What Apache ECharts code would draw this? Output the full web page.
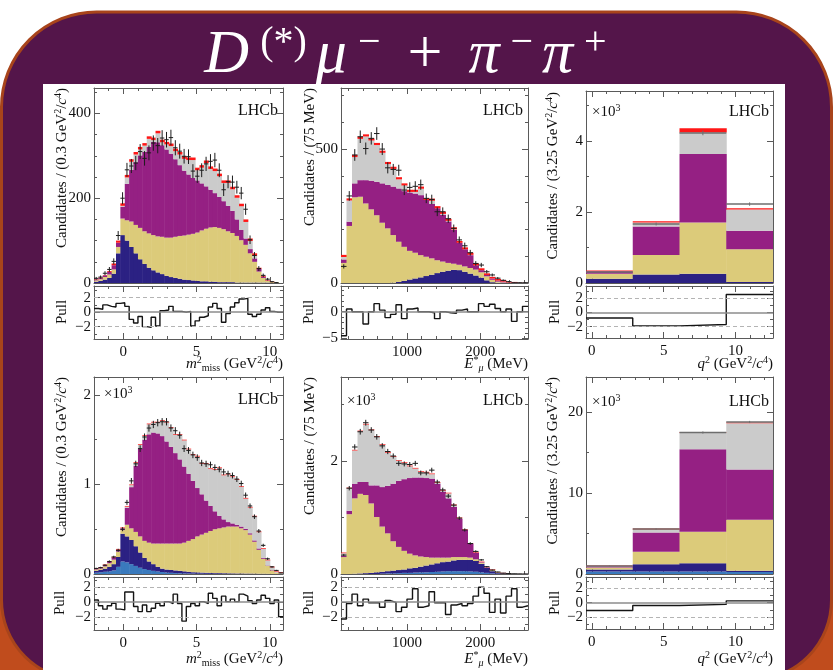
<!DOCTYPE html>
<html>
<head>
<meta charset="utf-8">
<title>D(*) mu + pi- pi+ fit projections</title>
<script src="https://cdn.jsdelivr.net/npm/echarts@6.0.0/dist/echarts.min.js"></script>
<style>
html,body{margin:0;padding:0;background:#fff;}
#chart{width:833px;height:670px;}
</style>
</head>
<body>
<div id="chart"></div>
<script>
// ---------- binning ----------
const M2_BINS = { lo: -2.0, width: 0.3, n: 43 };   // m2_miss in GeV^2/c^4
const E_BINS  = { lo: 100,  width: 75,  n: 34 };   // E*_mu in MeV
const Q2_EDGES = [-0.4, 2.85, 6.1, 9.35, 12.6];    // q2 in GeV^2/c^4

// ---------- first sample: candidates per bin ----------
// stack levels are the cumulative heights reached by each template
const aNavyTop   = [3,5,8,12,22,70,113,100,85,70,56,45,36,30,25,21,17,14,12,10,8,7,6,5,4,4,3,3,2,2,2,2,1,1,1,1,1,1,1,1,0,0,0];
const aYellowTop = [6,9,14,20,32,85,152,148,145,137,130,122,117,113,110,109,107,107,109,111,112,114,116,119,124,128,131,132,130,127,122,118,111,101,90,70,50,27,12,5,2,1,0];
const aMagTop    = [8,12,18,26,42,95,180,234,267,285,301,309,321,333,332,325,315,305,292,278,265,256,248,242,235,228,220,212,203,193,182,170,150,125,105,80,58,33,15,6,2,1,0];
const aFit       = [9,13,19,28,46,100,188,255,292,309,321,330,346,343,359,338,333,329,317,309,299,296,296,272,278,289,275,270,258,242,242,227,207,187,150,105,70,36,17,7,3,1,0];
const aData      = [11,14,23,32,51,112,200,267,276,283,310,294,307,330,324,342,338,343,319,311,299,298,264,252,266,281,287,290,266,220,239,238,226,212,174,102,65,34,18,9,3,1,0];
const aPull      = [0.5,0.4,1.0,0.8,0.7,1.2,1.3,0.8,-1.0,-1.5,-0.6,-2.0,-2.1,-0.7,-1.9,0.2,0.3,0.8,0.1,0.1,0.0,0.1,-1.9,-1.2,-0.7,-0.5,0.7,1.2,0.5,-1.4,-0.2,0.7,1.3,1.8,1.9,-0.3,-0.6,-0.3,0.3,0.6,0.1,0.0,0.0];

const bNavyTop   = [0,0,0,0,0,0,0,0,0,1,4,8,13,17,21,26,31,37,42,46,49,48,42,35,28,20,10,3,1,0,0,0,0,0];
const bYellowTop = [75,213,320,322,297,275,253,225,204,179,154,135,120,113,104,98,92,85,80,75,72,68,62,56,50,40,25,12,5,2,1,0,0,0];
const bMagTop    = [88,229,372,384,384,382,378,372,366,360,353,343,338,334,328,310,295,279,255,230,198,150,126,104,66,48,30,17,9,5,2,1.5,0.5,0.2];
const bFit       = [105,316,478,546,555,540,523,494,452,434,395,372,348,348,360,316,315,287,266,240,208,157,133,113,73,55,36,23,15,10,4,4,1,0.5];
const bData      = [62,325,478,546,502,540,558,500,430,424,421,347,357,361,367,316,312,266,266,240,204,161,139,113,73,67,42,30,18,10,5,1,1,1];
const bPull      = [-4.5,0.5,0,0,-2.3,0,1.5,0.3,-1.1,-0.5,1.3,-1.3,0.5,0.7,0,0,-0.2,-1.3,0,-0.2,-0.3,0.3,0.5,0,0,1.5,1.0,1.4,0.6,0,0.5,-1.8,0,1.0];

// q2 projection, in units of 10^3 candidates
const cNavyTop   = [0.12,0.24,0.26,0.03];
const cYellowTop = [0.26,0.79,1.70,0.95];
const cMagTop    = [0.33,1.59,3.63,1.47];
const cGrayTop   = [0.33,1.70,4.23,2.07];
const cFit       = [0.35,1.74,4.35,2.10];
const cData      = [0.31,1.66,4.22,2.22];
const cPull      = [-0.8,-1.9,-1.7,2.5];

// ---------- second sample, in units of 10^3 candidates ----------
const dBlueTop   = [0.015,0.02,0.025,0.03,0.04,0.08,0.14,0.13,0.11,0.09,0.07,0.055,0.045,0.035,0.028,0.022,0.017,0.013,0.01,0.008,0.006,0.005,0.004,0.003,0.003,0.002,0.002,0.001,0.001,0.001,0.001,0,0,0,0,0,0,0,0,0,0,0,0];
const dNavyTop   = [0.035,0.045,0.06,0.08,0.11,0.19,0.45,0.42,0.38,0.31,0.24,0.18,0.14,0.11,0.08,0.06,0.05,0.045,0.04,0.035,0.03,0.025,0.02,0.018,0.016,0.014,0.012,0.01,0.01,0.009,0.008,0.007,0.006,0.006,0.005,0.005,0.004,0.003,0.003,0.002,0.001,0.001,0];
const dYellowTop = [0.05,0.06,0.085,0.12,0.16,0.25,0.49,0.55,0.51,0.47,0.42,0.37,0.35,0.34,0.34,0.34,0.34,0.34,0.34,0.34,0.35,0.37,0.39,0.42,0.44,0.46,0.48,0.50,0.51,0.52,0.53,0.53,0.53,0.51,0.49,0.44,0.36,0.27,0.17,0.09,0.04,0.015,0.005];
const dMagTop    = [0.055,0.07,0.098,0.135,0.185,0.27,0.51,0.74,0.97,1.21,1.40,1.50,1.56,1.58,1.57,1.54,1.48,1.42,1.35,1.28,1.20,1.12,1.04,0.96,0.89,0.82,0.76,0.70,0.65,0.61,0.58,0.565,0.55,0.53,0.505,0.455,0.375,0.285,0.18,0.095,0.045,0.017,0.006];
const dFit       = [0.06,0.076,0.106,0.144,0.192,0.28,0.52,0.76,1.00,1.25,1.45,1.55,1.68,1.70,1.70,1.72,1.70,1.64,1.56,1.56,1.50,1.40,1.34,1.32,1.24,1.24,1.18,1.17,1.19,1.11,1.12,1.09,1.06,0.98,0.85,0.75,0.65,0.475,0.29,0.16,0.082,0.035,0.02];
const dData      = [0.062,0.072,0.098,0.14,0.19,0.265,0.50,0.80,1.04,1.23,1.40,1.53,1.63,1.67,1.69,1.70,1.70,1.63,1.60,1.55,1.40,1.38,1.33,1.30,1.24,1.23,1.22,1.19,1.17,1.14,1.12,1.10,1.06,1.01,0.88,0.76,0.64,0.48,0.32,0.17,0.08,0.04,0.012];
const dPull      = [0.27,-0.5,-0.97,-0.5,-0.18,-0.97,-1.07,1.37,1.37,-0.6,-1.3,-0.4,-1.3,-0.85,-0.18,-0.5,0.05,-0.2,1.07,-0.2,-2.6,-0.6,-0.2,-0.5,0.05,-0.2,1.2,0.5,-0.5,0.8,0.05,0.4,0.05,1.07,0.8,0.18,-0.2,0.27,0.93,0.5,-0.2,0.27,-2.0];

const eBlueTop   = [0,0,0,0,0,0,0,0.005,0.01,0.01,0.015,0.02,0.02,0.025,0.03,0.03,0.035,0.04,0.045,0.05,0.05,0.05,0.05,0.045,0.04,0.03,0.02,0.01,0.005,0,0,0,0,0];
const eNavyTop   = [0,0,0.005,0.01,0.015,0.02,0.03,0.04,0.05,0.06,0.07,0.08,0.1,0.11,0.13,0.15,0.17,0.19,0.21,0.22,0.24,0.25,0.25,0.25,0.23,0.18,0.11,0.05,0.02,0.008,0.003,0.001,0,0];
const eYellowTop = [0.30,1.06,1.34,1.42,1.40,1.25,1.01,0.84,0.72,0.58,0.48,0.41,0.36,0.33,0.31,0.30,0.29,0.29,0.29,0.29,0.30,0.30,0.30,0.29,0.26,0.20,0.11,0.07,0.03,0.012,0.005,0.002,0.001,0];
const eMagTop    = [0.32,1.12,1.60,1.63,1.63,1.57,1.57,1.54,1.56,1.60,1.65,1.68,1.70,1.71,1.71,1.70,1.69,1.60,1.46,1.34,1.19,0.98,0.78,0.54,0.375,0.21,0.115,0.07,0.03,0.015,0.005,0.002,0.002,0.001];
const eFit       = [0.38,1.53,2.20,2.54,2.66,2.56,2.44,2.30,2.16,2.09,2.02,1.98,1.92,1.88,1.82,1.81,1.78,1.63,1.49,1.44,1.23,1.00,0.79,0.545,0.385,0.22,0.12,0.08,0.033,0.02,0.006,0.002,0.002,0.001];
const eData      = [0.335,1.52,2.25,2.52,2.68,2.55,2.43,2.27,2.17,2.09,1.96,1.95,1.94,1.96,1.79,1.79,1.84,1.63,1.49,1.38,1.22,0.99,0.78,0.54,0.40,0.25,0.13,0.07,0.035,0.015,0.008,0.004,0.002,0.001];
const ePull      = [-2.3,-0.2,1.07,-0.5,0.4,-0.1,-0.1,-0.7,0.2,-0.04,-1.3,-0.7,0.4,1.8,-0.7,-0.5,1.4,-0.1,-0.1,-1.7,-0.4,-0.2,-0.5,-0.2,0.8,2.0,1.2,-1.4,0.4,-1.5,0.8,1.8,-0.7,-0.5];

const fBlueTop   = [0.3,0.3,0.3,0.25];
const fNavyTop   = [0.55,1.2,1.32,0.41];
const fYellowTop = [0.8,2.75,5.2,6.7];
const fMagTop    = [0.95,5.13,15.4,12.9];
const fGrayTop   = [1.0,5.5,17.4,18.6];
const fFit       = [1.05,5.6,17.5,18.7];
const fData      = [1.0,5.55,17.45,18.75];
const fPull      = [-1.1,-0.4,-0.25,0.25];

// ---------- tick sets ----------
const X_M2 = { major:[0,5,10], minor:[-2,-1,1,2,3,4,6,7,8,9], labels:[0,5,10] };
const X_E  = { major:[1000,2000], minor:[200,400,600,800,1200,1400,1600,1800,2200,2400,2600], labels:[1000,2000] };
const X_Q2 = { major:[0,5,10], minor:[1,2,3,4,6,7,8,9,11,12], labels:[0,5,10] };
const Y_A  = { major:[0,200,400], minor:[50,100,150,250,300,350,450], labels:[0,200,400] };
const Y_B  = { major:[0,500], minor:[100,200,300,400,600,700], labels:[0,500] };
const Y_C  = { major:[0,2,4], minor:[1,3,5], labels:[0,2,4] };
const Y_D  = { major:[0,1,2], minor:[0.5,1.5], labels:[0,1,2] };
const Y_E  = { major:[0,2], minor:[1,3], labels:[0,2] };
const Y_F  = { major:[0,10,20], minor:[5,15], labels:[0,10,20] };
const PULL2 = { major:[-2,0,2], minor:[-3,-1,1,3], labels:[-2,0,2] };
const PULL5 = { major:[-5,0], minor:[-4,-3,-2,-1,1,2,3,4], labels:[-5,0] };

// ---------- styling ----------
const SERIF = '"Liberation Serif","DejaVu Serif",serif';
const COL = { blue:'#3a7abd', navy:'#2b2183', yellow:'#dccb7a', mag:'#952083', gray:'#cbcbcb', red:'#ff1717' };
const FRAME = '#5a5a5a';

function edgesOf(b) {
  const e = [];
  for (let i = 0; i <= b.n; i++) e.push(Math.round((b.lo + i * b.width) * 1000) / 1000);
  return e;
}
function grayLevel(fit, below, band) {
  return fit.map((t, i) => Math.max(below[i], t - band));
}
const fmtNum = v => (v < 0 ? '\u2212' + String(-v) : String(v));

const panels = [
  { grid:[94,88,189,195], pull:[94,286,189,53], xr:[-2,10.9], yr:[0,460], pr:[-3.7,3.6],
    edges:edgesOf(M2_BINS), unit:1, xt:X_M2, yt:Y_A, pt:PULL2, dashed:true, dataLine:false,
    layers:[[aNavyTop,COL.navy],[aYellowTop,COL.yellow],[aMagTop,COL.mag],[grayLevel(aFit,aMagTop,6),COL.gray],[aFit,COL.red]],
    data:aData, pullv:aPull },
  { grid:[341,88,187,195], pull:[341,286,187,53], xr:[100,2650], yr:[0,728], pr:[-5.1,4.8],
    edges:edgesOf(E_BINS), unit:1, xt:X_E, yt:Y_B, pt:PULL5, dashed:false, dataLine:false,
    layers:[[bNavyTop,COL.navy],[bYellowTop,COL.yellow],[bMagTop,COL.mag],[grayLevel(bFit,bMagTop,8),COL.gray],[bFit,COL.red]],
    data:bData, pullv:bPull },
  { grid:[586,91,187,192], pull:[586,286,187,52], xr:[-0.4,12.6], yr:[0,5.4], pr:[-3.6,3.7],
    edges:Q2_EDGES, unit:1000, xt:X_Q2, yt:Y_C, pt:PULL2, dashed:true, dataLine:true,
    layers:[[cNavyTop,COL.navy],[cYellowTop,COL.yellow],[cMagTop,COL.mag],[cGrayTop,COL.gray],[cFit,COL.red]],
    data:cData, pullv:cPull },
  { grid:[94,377,189,197], pull:[94,577,189,53], xr:[-2,10.9], yr:[0,2.2], pr:[-3.8,3.4],
    edges:edgesOf(M2_BINS), unit:1000, xt:X_M2, yt:Y_D, pt:PULL2, dashed:true, dataLine:false,
    layers:[[dBlueTop,COL.blue],[dNavyTop,COL.navy],[dYellowTop,COL.yellow],[dMagTop,COL.mag],[grayLevel(dFit,dMagTop,0.008),COL.gray],[dFit,COL.red]],
    data:dData, pullv:dPull },
  { grid:[341,377,187,197], pull:[341,577,187,53], xr:[100,2650], yr:[0,3.49], pr:[-3.8,3.4],
    edges:edgesOf(E_BINS), unit:1000, xt:X_E, yt:Y_E, pt:PULL2, dashed:true, dataLine:false,
    layers:[[eBlueTop,COL.blue],[eNavyTop,COL.navy],[eYellowTop,COL.yellow],[eMagTop,COL.mag],[grayLevel(eFit,eMagTop,0.012),COL.gray],[eFit,COL.red]],
    data:eData, pullv:ePull },
  { grid:[586,377,187,197], pull:[586,577,187,52], xr:[-0.4,12.6], yr:[0,24.3], pr:[-3.7,3.6],
    edges:Q2_EDGES, unit:1000, xt:X_Q2, yt:Y_F, pt:PULL2, dashed:true, dataLine:true,
    layers:[[fBlueTop,COL.blue],[fNavyTop,COL.navy],[fYellowTop,COL.yellow],[fMagTop,COL.mag],[fGrayTop,COL.gray],[fFit,COL.red]],
    data:fData, pullv:fPull }
];

// ---------- axes ----------
const grid = [], xAxis = [], yAxis = [], series = [];

function mkAxis(gi, range, pos, ticks, len, labels, line, isX) {
  return {
    type:'value', gridIndex:gi, min:range[0], max:range[1], position:pos,
    axisLine:{ show:line, onZero:false, lineStyle:{ color:FRAME, width:1 } },
    axisTick:{ show:ticks.length > 0, inside:true, length:len, customValues:ticks, lineStyle:{ color:FRAME, width:1 } },
    axisLabel:{ show:!!(labels && labels.length), customValues:labels || [], formatter:fmtNum, margin:isX ? 6 : 3,
                hideOverlap:false, showMinLabel:true, showMaxLabel:true,
                fontFamily:SERIF, fontSize:15, color:'#111' },
    splitLine:{ show:false }
  };
}
// tick labels are split over the major and minor axes so that closely spaced
// labels on the short pull panels are never dropped as overlapping
function addAxes(gi, xr, yr, xt, yt, withXLabels) {
  const x = xAxis.length, y = yAxis.length;
  const yEven = yt.labels.filter((_, k) => k % 2 === 0);
  const yOdd = yt.labels.filter((_, k) => k % 2 === 1);
  xAxis.push(mkAxis(gi, xr, 'bottom', xt.major, 6, withXLabels ? xt.labels : null, true, true));
  xAxis.push(mkAxis(gi, xr, 'bottom', xt.minor, 3, null, false, true));
  xAxis.push(mkAxis(gi, xr, 'top', xt.major, 6, null, true, true));
  xAxis.push(mkAxis(gi, xr, 'top', xt.minor, 3, null, false, true));
  yAxis.push(mkAxis(gi, yr, 'left', yt.major, 6, yEven, true, false));
  yAxis.push(mkAxis(gi, yr, 'left', yt.minor, 3, yOdd, false, false));
  yAxis.push(mkAxis(gi, yr, 'right', yt.major, 6, null, true, false));
  yAxis.push(mkAxis(gi, yr, 'right', yt.minor, 3, null, false, false));
  return { x, y };
}

// ---------- renderers ----------
function stackRenderer(colors) {
  return function (params, api) {
    const x0 = api.value(0), x1 = api.value(1);
    const children = [];
    let prev = 0;
    for (let k = 0; k < colors.length; k++) {
      const top = api.value(2 + k);
      if (top > prev) {
        const a = api.coord([x0, prev]), b = api.coord([x1, top]);
        children.push({ type:'rect',
          shape:{ x:a[0], y:b[1], width:b[0] - a[0] + 0.5, height:a[1] - b[1] },
          style:{ fill:colors[k] } });
        prev = top;
      }
    }
    return { type:'group', children };
  };
}
function dataRenderer(color, wide) {
  return function (params, api) {
    const x0 = api.value(0), x1 = api.value(1), v = api.value(2), err = api.value(3);
    if (!(v > 0)) return { type:'group', children:[] };
    const xm = (x0 + x1) / 2;
    const a = api.coord([x0, v]), b = api.coord([x1, v]);
    const lo = api.coord([xm, Math.max(v - err, 0)]), hi = api.coord([xm, v + err]);
    return { type:'group', children:[
      { type:'line', shape:{ x1:a[0], y1:a[1], x2:b[0], y2:b[1] }, style:{ stroke:color, lineWidth:wide ? 1.5 : 1 } },
      { type:'line', shape:{ x1:lo[0], y1:lo[1], x2:hi[0], y2:hi[1] }, style:{ stroke:color, lineWidth:1 } }
    ]};
  };
}

panels.forEach(p => {
  const g = grid.length;
  grid.push({ left:p.grid[0], top:p.grid[1], width:p.grid[2], height:p.grid[3] });
  grid.push({ left:p.pull[0], top:p.pull[1], width:p.pull[2], height:p.pull[3] });
  const m = addAxes(g, p.xr, p.yr, p.xt, p.yt, false);
  const q = addAxes(g + 1, p.xr, p.pr, p.xt, p.pt, true);
  const e = p.edges, n = e.length - 1;

  const colors = p.layers.map(l => l[1]);
  const stackItems = [];
  for (let i = 0; i < n; i++) stackItems.push([e[i], e[i + 1]].concat(p.layers.map(l => l[0][i])));
  series.push({ type:'custom', xAxisIndex:m.x, yAxisIndex:m.y, clip:true, silent:true, z:2,
    data:stackItems, encode:{ x:[0,1], y:colors.map((_, k) => 2 + k) }, renderItem:stackRenderer(colors) });

  const dataItems = [];
  for (let i = 0; i < n; i++) dataItems.push([e[i], e[i + 1], p.data[i], Math.sqrt(p.data[i] * p.unit) / p.unit]);
  series.push({ type:'custom', xAxisIndex:m.x, yAxisIndex:m.y, clip:true, silent:true, z:3,
    data:dataItems, encode:{ x:[0,1], y:[2] },
    renderItem:dataRenderer(p.dataLine ? '#6e6e6e' : '#1c1c1c', p.dataLine) });

  const steps = [];
  for (let i = 0; i < n; i++) steps.push([e[i], p.pullv[i]]);
  steps.push([e[n], p.pullv[n - 1]]);
  const refLines = [{ yAxis:0, lineStyle:{ color:'#8c8c8c', width:1.5, type:'solid' } }];
  if (p.dashed) {
    refLines.push({ yAxis:2, lineStyle:{ color:'#b4b4b4', width:1, type:[4,3] } });
    refLines.push({ yAxis:-2, lineStyle:{ color:'#b4b4b4', width:1, type:[4,3] } });
  }
  series.push({ type:'line', xAxisIndex:q.x, yAxisIndex:q.y, data:steps, step:'end', symbol:'none',
    silent:true, z:3, lineStyle:{ opacity:0 },
    markLine:{ symbol:'none', silent:true, animation:false, label:{ show:false }, data:refLines } });
  series.push({ type:'line', xAxisIndex:q.x, yAxisIndex:q.y, data:steps, step:'end', symbol:'none',
    silent:true, z:4, clip:true, lineStyle:{ color:'#141414', width:1.4 } });
});

// ---------- text ----------
const TXT = '#111';
const rich = {
  n:  { fontFamily:SERIF, fontSize:15, fill:TXT, lineHeight:18, verticalAlign:'middle' },
  i:  { fontFamily:SERIF, fontSize:15, fill:TXT, lineHeight:18, verticalAlign:'middle', fontStyle:'italic' },
  u:  { fontFamily:SERIF, fontSize:10, fill:TXT, lineHeight:10, verticalAlign:'top' },
  d:  { fontFamily:SERIF, fontSize:10, fill:TXT, lineHeight:10, verticalAlign:'bottom' },
  di: { fontFamily:SERIF, fontSize:10, fill:TXT, lineHeight:10, verticalAlign:'bottom', fontStyle:'italic' }
};
const T_YM2 = '{n|Candidates / (0.3 GeV}{u|2}{n|/}{i|c}{u|4}{n|)}';
const T_YE  = '{n|Candidates / (75 MeV)}';
const T_YQ2 = '{n|Candidates / (3.25 GeV}{u|2}{n|/}{i|c}{u|4}{n|)}';
const T_XM2 = '{i|m}{u|2}{d|miss}{n| (GeV}{u|2}{n|/}{i|c}{u|4}{n|)}';
const T_XE  = '{i|E}{u|*}{di|μ}{n| (MeV)}';
const T_XQ2 = '{i|q}{u|2}{n| (GeV}{u|2}{n|/}{i|c}{u|4}{n|)}';
const T_K   = '{n|×10}{u|3}';

function txt(x, y, text, align, rot) {
  return { type:'text', x, y, rotation:rot || 0, z:50,
    style:{ text, rich, align, verticalAlign:'middle', fill:TXT, fontFamily:SERIF, fontSize:15 } };
}
function lhcb(x, y) {
  return { type:'text', x, y, z:50, style:{ text:'LHCb', align:'right', verticalAlign:'middle', fill:TXT, fontFamily:SERIF, fontSize:16 } };
}
const R = Math.PI / 2;

const titleRich = {
  it:{ fontFamily:SERIF, fontStyle:'italic', fontSize:62, fill:'#fff', lineHeight:66, verticalAlign:'middle', padding:[0,4,0,4] },
  up:{ fontFamily:SERIF, fontSize:62, fill:'#fff', lineHeight:66, verticalAlign:'middle', padding:[0,22,0,22] },
  sp:{ fontFamily:SERIF, fontSize:40, fill:'#fff', lineHeight:40, verticalAlign:'top', padding:[0,5,0,7] }
};

const graphic = [
  { type:'rect', z:-30, shape:{ x:0, y:470, width:833, height:200 }, style:{ fill:'#c04c1d' } },
  { type:'rect', z:-20, shape:{ x:1.5, y:12, width:830, height:668, r:[95,95,80,80] },
    style:{ fill:'#54154a', stroke:'#a8441b', lineWidth:3 } },
  { type:'rect', z:-10, shape:{ x:43, y:84, width:742, height:590 }, style:{ fill:'#ffffff' } },
  { type:'text', x:406, y:56, z:50, style:{
      text:'{it|D}{sp|(*)}{it|μ}{sp|\u2212}{up|+}{it|π}{sp|\u2212}{it|π}{sp|+}',
      align:'center', verticalAlign:'middle', fill:'#fff', rich:titleRich } },
  // y titles
  txt(62, 88, T_YM2, 'right', R), txt(310, 88, T_YE, 'right', R), txt(553, 92, T_YQ2, 'right', R),
  txt(62, 377, T_YM2, 'right', R), txt(310, 377, T_YE, 'right', R), txt(553, 377, T_YQ2, 'right', R),
  // pull titles
  txt(62, 312, '{n|Pull}', 'center', R), txt(309, 312, '{n|Pull}', 'center', R), txt(555, 312, '{n|Pull}', 'center', R),
  txt(60, 603, '{n|Pull}', 'center', R), txt(309, 603, '{n|Pull}', 'center', R), txt(555, 603, '{n|Pull}', 'center', R),
  // x titles
  txt(283, 364, T_XM2, 'right'), txt(528, 364, T_XE, 'right'), txt(773, 364, T_XQ2, 'right'),
  txt(283, 659, T_XM2, 'right'), txt(528, 659, T_XE, 'right'), txt(773, 659, T_XQ2, 'right'),
  // experiment labels and multipliers
  lhcb(278, 111), lhcb(523, 111), lhcb(769, 112), lhcb(278, 400), lhcb(523, 401), lhcb(769, 402),
  txt(592, 112, T_K, 'left'), txt(104, 394, T_K, 'left'), txt(347, 401, T_K, 'left'), txt(592, 402, T_K, 'left')
];

const chart = echarts.init(document.getElementById('chart'), null, { renderer:'canvas', width:833, height:670 });
chart.setOption({
  backgroundColor:'#ffffff',
  animation:false,
  grid, xAxis, yAxis, series,
  graphic:{ elements:graphic }
});
</script>
</body>
</html>
